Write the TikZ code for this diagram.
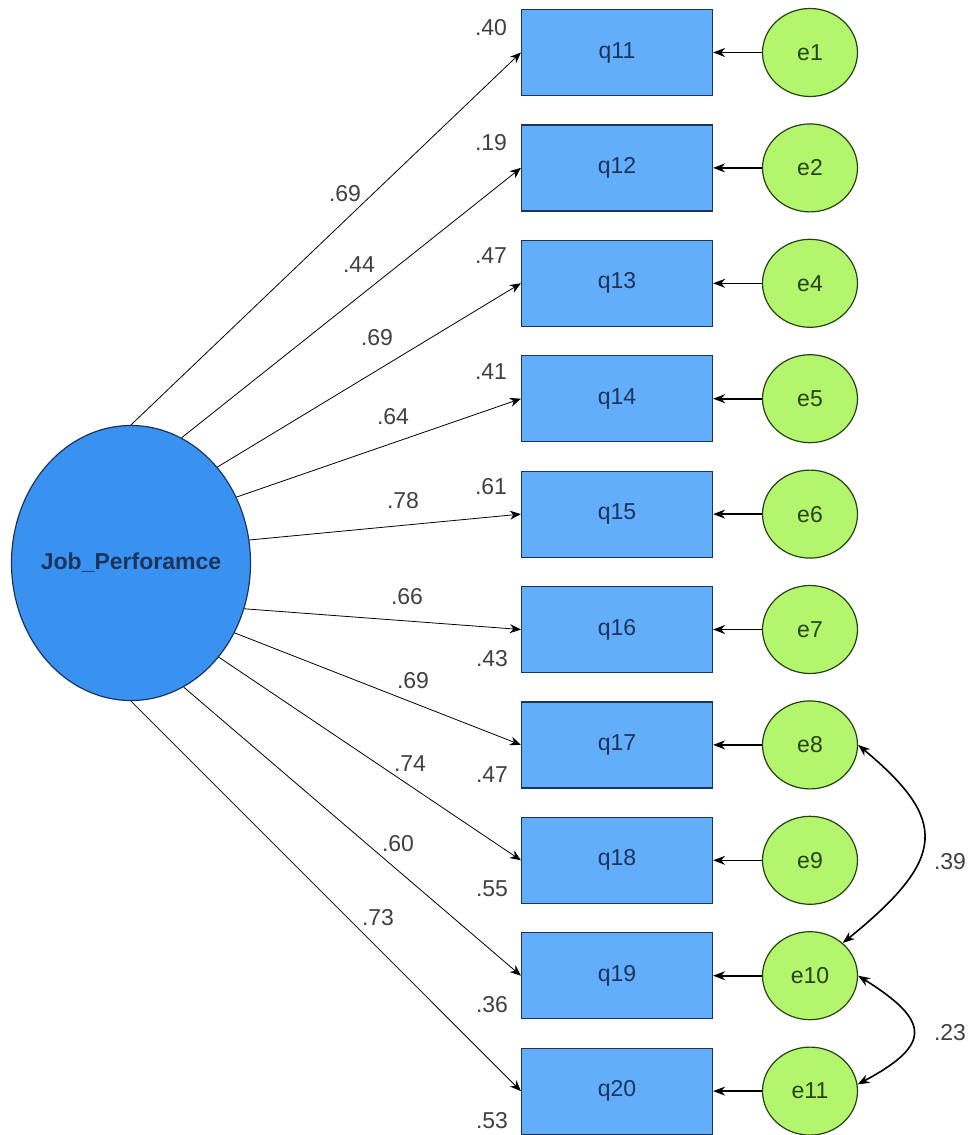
\documentclass[tikz,border=0pt]{standalone}
\usepackage{fontspec}
\setmainfont{Liberation Sans}
\usepackage{tikz}
\usetikzlibrary{arrows.meta,shapes.geometric}
\definecolor{hexcolor0x63aefa}{rgb}{0.388,0.682,0.980}
\definecolor{hexcolor0x3a92f0}{rgb}{0.227,0.573,0.941}
\definecolor{hexcolor0xb4f56e}{rgb}{0.706,0.961,0.431}
\definecolor{myblack}{rgb}{0.000,0.000,0.000}
\definecolor{mynavy}{rgb}{0.110,0.200,0.360}
\definecolor{mygreen}{rgb}{0.150,0.260,0.080}
\definecolor{mygray}{rgb}{0.250,0.250,0.250}
\tikzstyle{none}=[inner sep=0pt,text=mygray,font=\fontsize{23}{25}\selectfont]
\tikzstyle{item}=[rectangle,fill=hexcolor0x63aefa,draw=mynavy,line width=1.2pt,minimum width=191pt,minimum height=86pt,text=mynavy,font=\fontsize{23}{25}\selectfont]
\tikzstyle{err}=[ellipse,fill=hexcolor0xb4f56e,draw=mygreen,line width=1.2pt,minimum width=95pt,minimum height=88pt,inner sep=0pt,text=mygreen,font=\fontsize{23}{25}\selectfont]
\tikzstyle{factor}=[ellipse,fill=hexcolor0x3a92f0,draw=mynavy,line width=1.2pt,minimum width=239pt,minimum height=275pt,inner ysep=0pt,inner xsep=-40pt,text=mynavy,font=\fontsize{23}{25}\selectfont\bfseries]
\tikzstyle{load}=[-{Stealth[length=11pt,width=9pt]},draw=myblack,line width=0.8pt]
\tikzstyle{res}=[-{Stealth[length=12pt,width=9pt]},draw=myblack,line width=1.6pt]
\tikzstyle{cov}=[{Stealth[length=12pt,width=9pt]}-{Stealth[length=12pt,width=9pt]},draw=myblack,line width=1.6pt]

\begin{document}
\begin{tikzpicture}[x=1pt,y=-1pt]
\useasboundingbox (0,0) rectangle (973,1135);
	% latent factor
	\node [style=factor] (jp) at (131, 563) {Job\_Perforamce};
	% observed items
	\node [style=item] (q11) at (617, 52.5) {q11};
	\node [style=item] (q12) at (617, 167.9) {q12};
	\node [style=item] (q13) at (617, 283.3) {q13};
	\node [style=item] (q14) at (617, 398.7) {q14};
	\node [style=item] (q15) at (617, 514.1) {q15};
	\node [style=item] (q16) at (617, 629.5) {q16};
	\node [style=item] (q17) at (617, 744.9) {q17};
	\node [style=item] (q18) at (617, 860.3) {q18};
	\node [style=item] (q19) at (617, 975.7) {q19};
	\node [style=item] (q20) at (617, 1091.1) {q20};
	% error terms
	\node [style=err] (e1) at (810, 52.5) {e1};
	\node [style=err] (e2) at (810, 167.9) {e2};
	\node [style=err] (e4) at (810, 283.3) {e4};
	\node [style=err] (e5) at (810, 398.7) {e5};
	\node [style=err] (e6) at (810, 514.1) {e6};
	\node [style=err] (e7) at (810, 629.5) {e7};
	\node [style=err] (e8) at (810, 744.9) {e8};
	\node [style=err] (e9) at (810, 860.3) {e9};
	\node [style=err] (e10) at (810, 975.7) {e10};
	\node [style=err] (e11) at (810, 1091.1) {e11};
	% loadings
	\draw [style=load] (jp.90) -- (q11.west);
	\draw [style=load] (jp.68.7) -- (q12.west);
	\draw [style=load] (jp.48.7) -- (q13.west);
	\draw [style=load] (jp.32.3) -- (q14.west);
	\draw [style=load] (jp.11.9) -- (q15.west);
	\draw [style=load] (jp.-22.7) -- (q16.west);
	\draw [style=load] (jp.-34.1) -- (q17.west);
	\draw [style=load] (jp.-47.8) -- (q18.west);
	\draw [style=load] (jp.-67.6) -- (q19.west);
	\draw [style=load] (jp.-90) -- (q20.west);
	\draw [style=res] (e1) -- (q11);
	\draw [style=res] (e2) -- (q12);
	\draw [style=res] (e4) -- (q13);
	\draw [style=res] (e5) -- (q14);
	\draw [style=res] (e6) -- (q15);
	\draw [style=res] (e7) -- (q16);
	\draw [style=res] (e8) -- (q17);
	\draw [style=res] (e9) -- (q18);
	\draw [style=res] (e10) -- (q19);
	\draw [style=res] (e11) -- (q20);
	\draw [style=cov] (e8.east) .. controls +(90,75) and +(105,-85) .. (e10.45);
	\draw [style=cov] (e10.east) .. controls +(72,45) and +(75,-40) .. (e11.8);
	% estimates
	\node [style=none] (l11) at (345, 194) {.69};
	\node [style=none] (l12) at (359, 265) {.44};
	\node [style=none] (l13) at (377, 338) {.69};
	\node [style=none] (l14) at (393, 417) {.64};
	\node [style=none] (l15) at (403, 501) {.78};
	\node [style=none] (l16) at (407, 597) {.66};
	\node [style=none] (l17) at (413, 681) {.69};
	\node [style=none] (l18) at (410, 764) {.74};
	\node [style=none] (l19) at (398, 844) {.60};
	\node [style=none] (l20) at (378, 918) {.73};
	\node [style=none] (r11) at (491, 28) {.40};
	\node [style=none] (r12) at (491, 143) {.19};
	\node [style=none] (r13) at (491, 256) {.47};
	\node [style=none] (r14) at (491, 372) {.41};
	\node [style=none] (r15) at (491, 487) {.61};
	\node [style=none] (r16) at (492, 659) {.43};
	\node [style=none] (r17) at (492, 775) {.47};
	\node [style=none] (r18) at (492, 889) {.55};
	\node [style=none] (r19) at (492, 1005) {.36};
	\node [style=none] (r20) at (492, 1121) {.53};
	\node [style=none] (c1) at (950, 862) {.39};
	\node [style=none] (c2) at (950, 1033) {.23};
\end{tikzpicture}
\end{document}
